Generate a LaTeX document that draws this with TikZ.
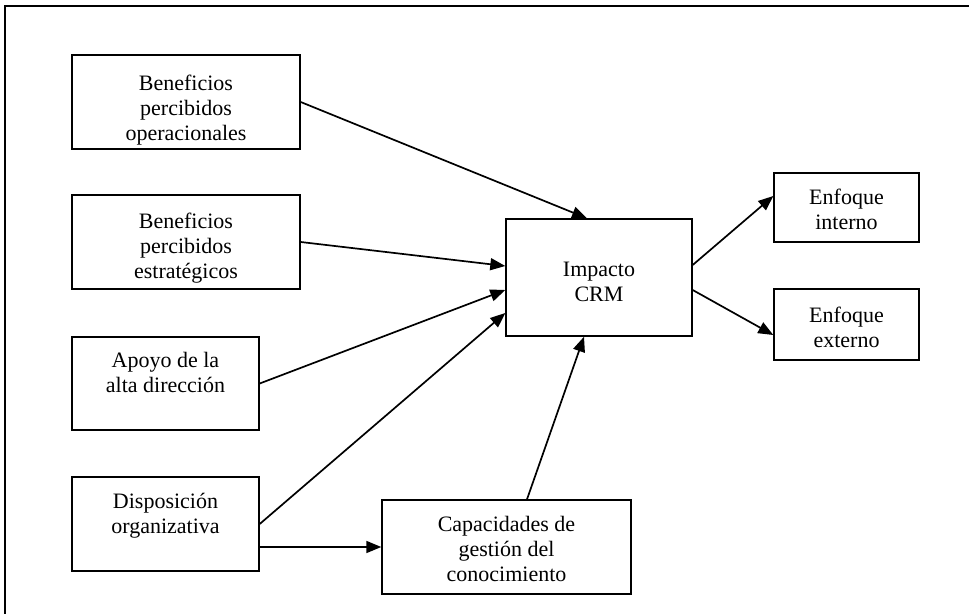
\documentclass[tikz,border=0pt]{standalone}
\usepackage{fontspec}
\setmainfont{Liberation Serif}
\usepackage{tikz}
\usetikzlibrary{arrows.meta,positioning}

\begin{document}
\begin{tikzpicture}[
      x=0.5pt, y=-0.5pt,
      box/.style={draw, line width=0.7pt, inner sep=0pt},
      boxtext/.style={align=center, inner sep=0pt, font=\fontsize{11pt}{12.5pt}\selectfont},
      link/.style={->, line width=0.85pt},
      >={Triangle[length=7.5pt,width=6pt]}
    ]
    \useasboundingbox (0,0) rectangle (969,614);
    % Outer frame
    \draw[line width=1pt] (5,614) -- (5,6) -- (969,6);

    % Boxes
    \node[box, minimum width=114pt, minimum height=47pt] (opera) at (186,102) {};
    \node[box, minimum width=114pt, minimum height=47pt] (estra) at (186,242) {};
    \node[box, minimum width=93.5pt, minimum height=46.5pt] (apoyo) at (165.5,383.5) {};
    \node[box, minimum width=93.5pt, minimum height=47pt] (dispo) at (165.5,524) {};
    \node[box, minimum width=124.5pt, minimum height=47pt] (capac) at (506.5,547) {};
    \node[box, minimum width=93pt, minimum height=58.5pt] (impacto) at (599,277.5) {};
    \node[box, minimum width=72.5pt, minimum height=34.5pt] (interno) at (846.5,207.5) {};
    \node[box, minimum width=72.5pt, minimum height=35.5pt] (externo) at (846.5,324.5) {};

    % Texts
    \node[boxtext, below=10pt of opera.north] (operaT) {Beneficios\\percibidos\\operacionales};
    \node[boxtext, below=9pt of estra.north] (estraT) {Beneficios\\percibidos\\estratégicos};
    \node[boxtext, below=8pt of apoyo.north] (apoyoT) {Apoyo de la\\alta dirección};
    \node[boxtext, below=8.5pt of dispo.north] (dispoT) {Disposición\\organizativa};
    \node[boxtext, below=8.5pt of capac.north] (capacT) {Capacidades de\\gestión del\\conocimiento};
    \node[boxtext, below=21.5pt of impacto.north] (impactoT) {Impacto\\CRM};
    \node[boxtext, below=8pt of interno.north] (internoT) {Enfoque\\interno};
    \node[boxtext, below=9pt of externo.north] (externoT) {Enfoque\\externo};

    % Arrows into Impacto CRM
    \draw[link] (opera.east) -- ([xshift=-6pt]impacto.north);
    \draw[link] (estra.east) -- ([yshift=5.75pt]impacto.west);
    \draw[link] (apoyo.east) -- ([yshift=-6.25pt]impacto.west);
    \draw[link] (dispo.east) -- ([yshift=-17.75pt]impacto.west);
    \draw[link] ([yshift=-11.5pt]dispo.east) -- (capac.west);
    \draw[link] ([xshift=10.25pt]capac.north) -- ([xshift=-7.5pt]impacto.south);
    % Arrows out
    \draw[link] ([yshift=6.25pt]impacto.east) -- ([yshift=5.75pt]interno.west);
    \draw[link] ([yshift=-6.25pt]impacto.east) -- ([yshift=-5.25pt]externo.west);
  \end{tikzpicture}
\end{document}
